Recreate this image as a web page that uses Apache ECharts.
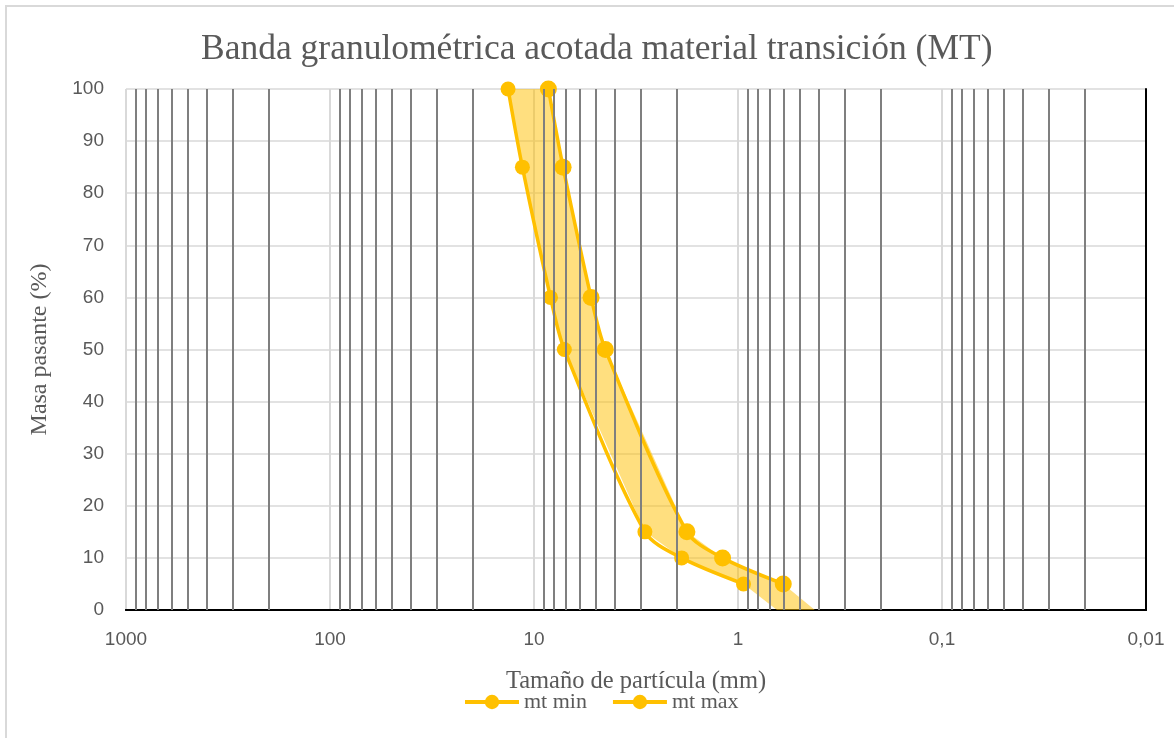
<!DOCTYPE html>
<html>
<head>
<meta charset="utf-8">
<title>Banda granulométrica acotada material transición (MT)</title>
<script src="https://cdn.jsdelivr.net/npm/echarts@6/dist/echarts.min.js"></script>
<style>
  html, body { margin: 0; padding: 0; background: #fff; }
  #chart { position: absolute; left: 0; top: 0; width: 1174px; height: 738px; }
  #frame { position: absolute; left: 5px; top: 5px; width: 1200px; height: 760px;
           border: 2px solid #d9d9d9; pointer-events: none; }
</style>
</head>
<body>
<div id="chart"></div>
<div id="frame"></div>
<script>
// datos
const pasante = [100, 85, 60, 50, 15, 10, 5];
const tamanoMin = [8.5, 7.2, 5.25, 4.47, 1.78, 1.19, 0.60];   // curva derecha
const tamanoMax = [13.4, 11.4, 8.3, 7.1, 2.86, 1.89, 0.94];   // curva izquierda
// extremos de la banda sombreada en 0 %
const bandaFinMax = 0.644;
const bandaFinMin = 0.42;

// líneas secundarias (2..9 por década)
const decadas = [100, 10, 1, 0.1, 0.01];
const multiplicadores = [2, 3, 4, 5, 6, 7, 8, 9];
const lineasMenores = [];
decadas.forEach(d => multiplicadores.forEach(m => lineasMenores.push(+(d * m).toPrecision(3))));

const chart = echarts.init(document.getElementById('chart'));

const serif = 'Liberation Serif';
const sans = 'Liberation Sans';
const gris = '#595959';
const amarillo = '#FFC000';

const option = {
  animation: false,
  title: {
    text: 'Banda granulométrica acotada material transición (MT)',
    left: 196,
    top: 27,
    textStyle: { fontFamily: serif, fontSize: 35.5, fontWeight: 'normal', color: gris }
  },
  legend: {
    data: ['mt min', 'mt max'],
    bottom: 20,
    left: 458,
    itemWidth: 54,
    itemHeight: 18,
    itemGap: 24,
    lineStyle: { width: 4 },
    textStyle: { fontFamily: serif, fontSize: 22, color: gris }
  },
  grid: { left: 126, right: 28, top: 89, bottom: 128 },
  xAxis: [{
    type: 'log',
    logBase: 10,
    inverse: true,
    min: 0.01,
    max: 1000,
    name: 'Tamaño de partícula (mm)',
    nameLocation: 'middle',
    nameGap: 59,
    nameTextStyle: { fontFamily: serif, fontSize: 24.5, color: gris },
    axisLine: { show: true, lineStyle: { color: '#000', width: 2 } },
    axisTick: { show: false },
    axisLabel: {
      margin: 20,
      fontFamily: sans,
      fontSize: 19,
      color: gris,
      formatter: v => String(v).replace('.', ',')
    },
    splitLine: { show: true, lineStyle: { color: '#d9d9d9', width: 2 } }
  }, {
    type: 'log',
    logBase: 10,
    inverse: true,
    min: 0.01,
    max: 1000,
    position: 'top',
    axisLine: { show: true, lineStyle: { color: '#000', width: 2 } },
    axisTick: { show: false },
    axisLabel: { show: false },
    splitLine: { show: false }
  }],
  yAxis: [{
    type: 'value',
    min: 0,
    max: 100,
    interval: 10,
    name: 'Masa pasante (%)',
    nameLocation: 'middle',
    nameGap: 74,
    nameTextStyle: { fontFamily: serif, fontSize: 24, color: gris },
    axisLine: { show: false },
    axisTick: { show: false },
    axisLabel: { margin: 22, fontFamily: sans, fontSize: 19, color: gris },
    splitLine: { show: true, lineStyle: { color: '#d9d9d9', width: 1.5 } }
  }, {
    type: 'value',
    min: 0,
    max: 100,
    interval: 10,
    position: 'right',
    axisLine: { show: true, lineStyle: { color: '#000', width: 2 } },
    axisTick: { show: false },
    axisLabel: { show: false },
    splitLine: { show: false }
  }],
  series: [
    {
      // solo para las líneas verticales secundarias
      name: 'lineas',
      type: 'line',
      data: [],
      z: 1,
      silent: true,
      markLine: {
        silent: true,
        symbol: 'none',
        label: { show: false },
        lineStyle: { color: '#7f7f7f', width: 2, type: 'solid' },
        data: lineasMenores.map(v => ({ xAxis: v }))
      }
    },
    {
      name: 'banda',
      type: 'custom',
      z: 2,
      silent: true,
      clip: true,
      data: [[1, 50]],
      renderItem: function (params, api) {
        const pts = [];
        tamanoMax.forEach((x, i) => pts.push(api.coord([x, pasante[i]])));
        pts.push(api.coord([bandaFinMax, 0]));
        pts.push(api.coord([bandaFinMin, 0]));
        for (let i = tamanoMin.length - 1; i >= 0; i--) {
          pts.push(api.coord([tamanoMin[i], pasante[i]]));
        }
        return {
          type: 'polygon',
          shape: { points: pts },
          style: { fill: 'rgba(255,192,0,0.5)' }
        };
      }
    },
    {
      name: 'mt min',
      type: 'line',
      z: 3,
      smooth: 0.3,
      symbol: 'circle',
      symbolSize: 17,
      itemStyle: { color: amarillo },
      lineStyle: { color: amarillo, width: 3.5 },
      data: tamanoMin.map((x, i) => [x, pasante[i]])
    },
    {
      name: 'mt max',
      type: 'line',
      z: 3,
      smooth: 0.3,
      symbol: 'circle',
      symbolSize: 15,
      itemStyle: { color: amarillo },
      lineStyle: { color: amarillo, width: 3.5 },
      data: tamanoMax.map((x, i) => [x, pasante[i]])
    }
  ]
};

chart.setOption(option);

window.addEventListener('resize', () => chart.resize());
</script>
</body>
</html>
